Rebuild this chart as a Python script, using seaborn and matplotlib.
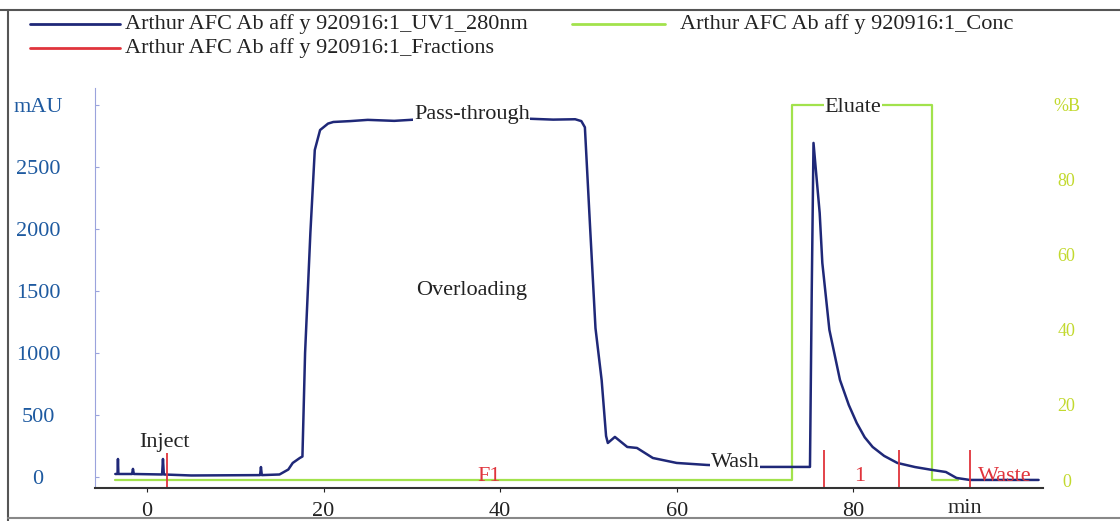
# Import necessary libraries
import numpy as np
import pandas as pd
import seaborn as sns
import matplotlib.pyplot as plt
from matplotlib.lines import Line2D

# UV trace (time in min, absorbance in mAU)
uv_time = [-3.6, -3.35, -3.3, -3.25, -1.7, -1.6, -1.5, 1.7, 1.8, 1.9, 5.0, 12.8, 12.9, 13.0,
           15.0, 16.0, 16.5, 17.3, 17.6, 17.9, 18.5, 19.0, 19.6, 20.5, 21.1, 23.0, 25.0,
           28.0, 31.0, 34.0, 40.0, 43.0, 46.0, 48.5, 49.2, 49.6, 50.2, 50.8, 51.5, 52.0,
           52.2, 53.0, 54.4, 55.5, 57.3, 60.0, 63.4, 69.4, 74.9, 75.1, 75.3, 75.5, 75.8,
           76.2, 76.5, 77.3, 78.5, 79.5, 80.4, 81.3, 82.2, 83.5, 85.0, 87.0, 89.0, 90.5,
           91.7, 93.2, 101.0]
uv_mau = [24, 24, 145, 24, 24, 65, 24, 20, 145, 20, 12, 15, 80, 15,
          20, 60, 113, 153, 165, 1000, 1968, 2637, 2798, 2850, 2863, 2870, 2880,
          2872, 2885, 2878, 2880, 2890, 2882, 2885, 2870, 2820, 2000, 1200, 780, 330,
          274, 323, 242, 234, 153, 113, 97, 81, 81, 81, 1500, 2694, 2450,
          2129, 1726, 1186, 782, 580, 435, 320, 242, 170, 113, 80, 56, 40,
          -8, -24, -24]

# Concentration of buffer B (%)
conc_time = [-3.6, 73.1, 73.1, 88.9, 88.9, 91.9]
conc_pct = [0, 0, 100, 100, 0, 0]

# Fraction marks and their labels
frac_time = [2.3, 76.7, 85.2, 93.2]
frac_labels = ['F1', '1', 'Waste']
frac_label_time = [38.8, 80.7, 97.2]

# Phase annotations
phase_labels = ['Inject', 'Overloading', 'Pass-through', 'Wash', 'Eluate']
phase_time = [2.0, 36.8, 36.8, 66.6, 80.0]
phase_mau = [274, 1500, 2920, 113, 2976]

# Axis ticks
left_ticks = [0, 500, 1000, 1500, 2000, 2500, 3000]
left_labels = ['0', '500', '1000', '1500', '2000', '2500', 'mAU']
right_ticks = [0, 20, 40, 60, 80, 100]
right_labels = ['0', '20', '40', '60', '80', '%B']
x_ticks = [0, 20, 40, 60, 80]

# Legend texts
legend_names = ['Arthur AFC Ab aff y 920916:1_UV1_280nm',
                'Arthur AFC Ab aff y 920916:1_Fractions',
                'Arthur AFC Ab aff y 920916:1_Conc']

uv_df = pd.DataFrame({'time': uv_time, 'mAU': uv_mau})
conc_df = pd.DataFrame({'time': conc_time, 'conc': conc_pct})

sns.set_style('white')
plt.rcParams['font.family'] = ['Liberation Serif', 'DejaVu Serif']

blue = '#1f2878'
red = '#e0343c'
green = '#a2e24c'
fs = 16

fig = plt.figure(figsize=(11.2, 5.21), dpi=100)
ax = fig.add_axes([95 / 1120, 1 - 488 / 521, (1043 - 95) / 1120, 400 / 521])
ax2 = ax.twinx()

# UV trace on the left axis, concentration step on the right axis
sns.lineplot(data=uv_df, x='time', y='mAU', ax=ax, color=blue, lw=1.8,
             estimator=None, sort=False)
sns.lineplot(data=conc_df, x='time', y='conc', ax=ax2, color=green, lw=1.6,
             estimator=None, sort=False)

# keep the UV trace and labels above the green line
ax.set_zorder(ax2.get_zorder() + 1)
ax.patch.set_visible(False)

# Fraction marks
ax.vlines(frac_time, -105, 215, color=red, lw=1.3)
for t, lab in zip(frac_label_time, frac_labels):
    ax.text(t, 0, lab, color=red, fontsize=fs, ha='center', va='center')

for t, v, lab in zip(phase_time, phase_mau, phase_labels):
    ax.text(t, v, lab, color='#222222', fontsize=fs, ha='center', va='center',
            bbox=dict(facecolor='white', edgecolor='none', pad=0.5))

ax.set_xlim(-5.9, 101.5)
ax.set_ylim(-89, 3137)
ax2.set_ylim(-2.13, 104.5)

ax.set_xticks(x_ticks)
ax.set_yticks(left_ticks, labels=left_labels)
ax2.set_yticks(right_ticks, labels=right_labels)
ax.set_xlabel('min', fontsize=fs)
ax.xaxis.set_label_coords(0.918, -0.028)
ax.set_ylabel('')
ax2.set_ylabel('')

ax.tick_params(axis='y', direction='in', length=3, pad=41, colors='#9aa3dc',
               labelcolor='#1e5aa0', labelsize=fs, left=True)
for lbl in ax.get_yticklabels():
    lbl.set_ha('center')
ax.tick_params(axis='x', direction='out', length=3, pad=7, colors='#222222',
               labelsize=fs, bottom=True)
ax2.tick_params(axis='y', length=0, pad=17, labelcolor='#c2d92e', labelsize=13)
for lbl in ax2.get_yticklabels():
    lbl.set_ha('center')

for a in (ax, ax2):
    for side in ('top', 'right', 'left', 'bottom'):
        a.spines[side].set_visible(False)
ax.spines['left'].set_visible(True)
ax.spines['left'].set_color('#9aa3dc')
ax.spines['bottom'].set_visible(True)
ax.spines['bottom'].set_color('#333333')
ax.spines['bottom'].set_linewidth(1.5)

# Legend drawn at the top of the frame
W, H = 1120, 521
legend_rows = [(30, 120, 24, blue, 125), (30, 120, 48, red, 125), (572, 665, 24, green, 680)]
for (x0, x1, y, c, xt), name in zip(legend_rows, legend_names):
    fig.add_artist(Line2D([x0 / W, x1 / W], [1 - y / H, 1 - y / H], color=c, lw=2))
    fig.text(xt / W, 1 - y / H, name, fontsize=fs, va='center', ha='left', color='#222222')

# Outer frame
fig.add_artist(Line2D([0, 1], [1 - 10 / H, 1 - 10 / H], color='#555555', lw=1.5))
fig.add_artist(Line2D([8 / W, 8 / W], [0, 1 - 10 / H], color='#555555', lw=1.5))
fig.add_artist(Line2D([8 / W, 1], [1 - 518 / H, 1 - 518 / H], color='#888888', lw=1.5))

plt.savefig('out.png', dpi=100)
